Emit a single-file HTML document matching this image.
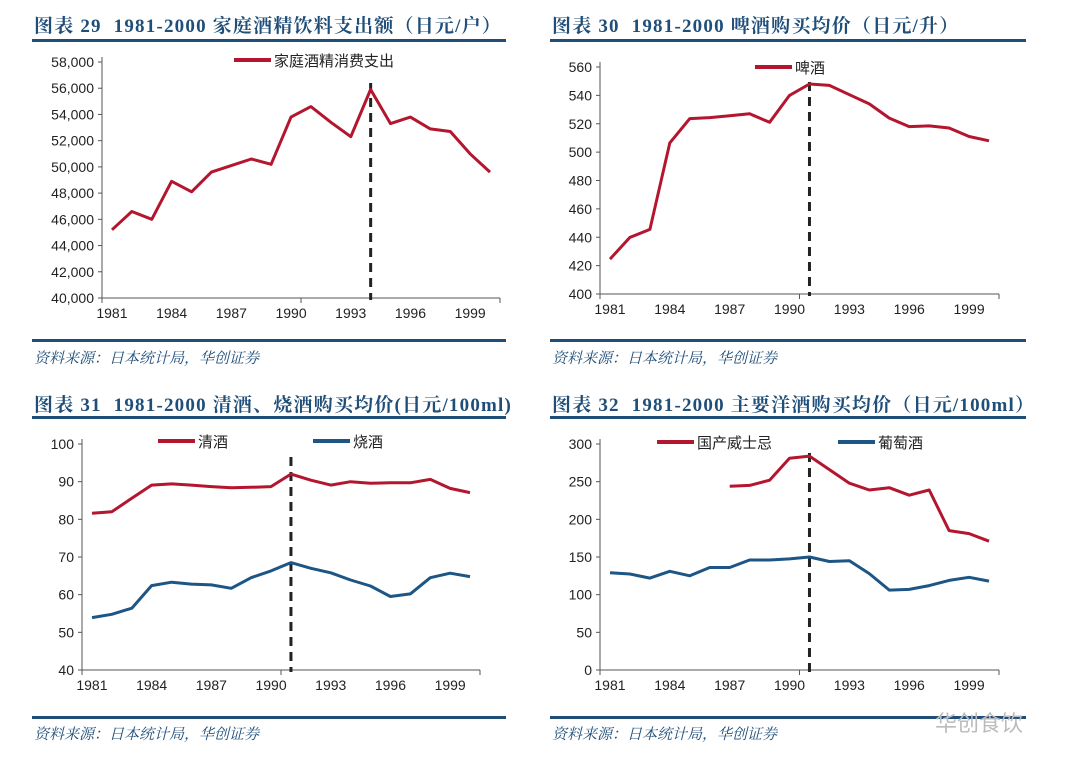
<!DOCTYPE html>
<html><head><meta charset="utf-8">
<style>
html,body{margin:0;padding:0;background:#fff;}
body{width:1080px;height:770px;position:relative;overflow:hidden;font-family:"Liberation Sans","Noto Sans CJK SC",sans-serif;}
.title{position:absolute;font-family:"Liberation Serif","Noto Serif CJK SC",serif;font-weight:bold;font-size:19px;color:#1f4e79;white-space:nowrap;letter-spacing:1.2px;}
.rule{position:absolute;height:3px;background:#1f4e79;}
.src{position:absolute;font-family:"Liberation Serif","Noto Serif CJK SC",serif;font-style:italic;font-size:15px;color:#1f4e79;white-space:nowrap;}
svg{position:absolute;left:0;top:0;}
</style></head>
<body>
<div class="title" style="left:34px;top:11px;">图表 29&nbsp;&nbsp;1981-2000 家庭酒精饮料支出额（日元/户）</div>
<div class="rule" style="left:32px;top:39px;width:474px;"></div>
<div class="rule" style="left:32px;top:339px;width:474px;"></div>
<div class="src" style="left:34px;top:347px;">资料来源：日本统计局，华创证券</div>

<div class="title" style="left:552px;top:11px;">图表 30&nbsp;&nbsp;1981-2000 啤酒购买均价（日元/升）</div>
<div class="rule" style="left:550px;top:39px;width:476px;"></div>
<div class="rule" style="left:550px;top:339px;width:476px;"></div>
<div class="src" style="left:552px;top:347px;">资料来源：日本统计局，华创证券</div>

<div class="title" style="left:34px;top:390px;">图表 31&nbsp;&nbsp;1981-2000 清酒、烧酒购买均价(日元/100ml)</div>
<div class="rule" style="left:32px;top:416px;width:474px;"></div>
<div class="rule" style="left:32px;top:716px;width:474px;"></div>
<div class="src" style="left:34px;top:723px;">资料来源：日本统计局，华创证券</div>

<div class="title" style="left:552px;top:390px;">图表 32&nbsp;&nbsp;1981-2000 主要洋酒购买均价（日元/100ml）</div>
<div class="rule" style="left:550px;top:416px;width:476px;"></div>
<div class="rule" style="left:550px;top:716px;width:476px;"></div>
<div class="src" style="left:552px;top:723px;">资料来源：日本统计局，华创证券</div>
<div style="position:absolute;left:935px;top:706px;font-size:22px;color:#bbb;">华创食饮</div>

<svg id="svg" width="1080" height="770"></svg>
<script>
const years = [1981,1982,1983,1984,1985,1986,1987,1988,1989,1990,1991,1992,1993,1994,1995,1996,1997,1998,1999,2000];
const xTickLabels = ["1981","1984","1987","1990","1993","1996","1999"];
const alcoholSpend = [45200,46600,46000,48900,48100,49600,50100,50600,50200,53800,54600,53400,52300,55900,53300,53800,52900,52700,51000,49600];
const beerPrice = [424.6,439.9,445.5,506.5,523.6,524.3,525.7,527,521,540,548,547,540.5,534,524,518,518.5,517,511,508];
const sakePrice = [81.6,82.0,85.6,89.1,89.4,89.1,88.7,88.4,88.5,88.7,92.0,90.4,89.1,90.0,89.6,89.7,89.7,90.6,88.2,87.1];
const shochuPrice = [53.9,54.8,56.4,62.4,63.3,62.8,62.6,61.7,64.5,66.3,68.5,67.0,65.8,63.9,62.3,59.5,60.2,64.5,65.7,64.8];
const whiskyPrice = [null,null,null,null,null,null,244,245,252,281,284,266,248,239,242,232,239,185,181,171];
const winePrice = [129,127.5,122,131,125,136,136,146,146,147.5,150,144,145,128,106,107,112,119,123,118];
const yTicks29 = [40000,42000,44000,46000,48000,50000,52000,54000,56000,58000];
const yTicks30 = [400,420,440,460,480,500,520,540,560];
const yTicks31 = [40,50,60,70,80,90,100];
const yTicks32 = [0,50,100,150,200,250,300];

const RED = "#b3162e", BLUE = "#1d5585";
const svg = document.getElementById('svg');
const NS = "http://www.w3.org/2000/svg";
function mk(tag, attrs, parent){const e=document.createElementNS(NS,tag);for(const k in attrs)e.setAttribute(k,attrs[k]);(parent||svg).appendChild(e);return e;}
function fmt(v){return v>=1000?v.toLocaleString('en-US'):String(v);}

function chart(id, L, R, T, B, yTicks, series, dashYear, dashTop, legends){
  const g = mk('g',{});
  
  
  const ymin=yTicks[0], ymax=yTicks[yTicks.length-1];
  const step=(R-L)/years.length;
  const xs=i=>L+(i+0.5)*step;
  const ys=v=>B-(v-ymin)/(ymax-ymin)*(B-T);
  const ax = mk('path',{d:`M${L} ${T-5}V${B}H${R}`,stroke:'#555',fill:'none','stroke-width':1},g);
  
  
  yTicks.forEach(t=>{
    const y=ys(t);
    mk('line',{x1:L-4,x2:L,y1:y,y2:y,stroke:'#555'},g);
    const tx=mk('text',{x:L-8,y:y+5,'text-anchor':'end','font-size':14,fill:'#222','font-family':'Liberation Sans, sans-serif'},g);
    tx.textContent=fmt(t);
    
    
  });
  [0,10,20].forEach(k=>mk('line',{x1:L+k*step,x2:L+k*step,y1:B,y2:B+5,stroke:'#555'},g));
  xTickLabels.forEach(lbl=>{
    const i=years.indexOf(+lbl);
    const tx=mk('text',{x:xs(i),y:B+20,'text-anchor':'middle','font-size':14,fill:'#222','font-family':'Liberation Sans, sans-serif'},g);
    tx.textContent=lbl;
    
    
  });
  const di=years.indexOf(dashYear);
  const dl=mk('line',{x1:xs(di),x2:xs(di),y1:dashTop,y2:B+2,stroke:'#222','stroke-width':3,'stroke-dasharray':'9,6'},g);
  
  
  series.forEach(s=>{
    let d='';let pen=false;
    s.data.forEach((v,i)=>{if(v==null){pen=false;return;}d+=(pen?'L':'M')+xs(i).toFixed(1)+' '+ys(v).toFixed(1);pen=true;});
    const p=mk('path',{d:d,stroke:s.color,'stroke-width':3,fill:'none','stroke-linejoin':'round'},g);
    
    
  });
  legends.forEach(lg=>{
    const ln=mk('line',{x1:lg.x,x2:lg.x+37,y1:lg.y,y2:lg.y,stroke:lg.color,'stroke-width':4},g);
    
    
    const tx=mk('text',{x:lg.x+40,y:lg.y+6,'font-size':15,fill:'#222','font-family':'Liberation Sans, Noto Sans CJK SC, sans-serif'},g);
    tx.textContent=lg.text;
    
    
  });
}
chart('chart-29',102,500,62,298,yTicks29,[{name:'line-alcohol-spend',color:RED,data:alcoholSpend}],1994,83,
  [{x:234,y:60,color:RED,text:'家庭酒精消费支出'}]);
chart('chart-30',600,999,67,294,yTicks30,[{name:'line-beer-price',color:RED,data:beerPrice}],1991,82,
  [{x:755,y:67,color:RED,text:'啤酒'}]);
chart('chart-31',82,480,444,670,yTicks31,[{name:'line-sake',color:RED,data:sakePrice},{name:'line-shochu',color:BLUE,data:shochuPrice}],1991,457,
  [{x:158,y:441,color:RED,text:'清酒'},{x:313,y:441,color:BLUE,text:'烧酒'}]);
chart('chart-32',600,999,444,670,yTicks32,[{name:'line-whisky',color:RED,data:whiskyPrice},{name:'line-wine',color:BLUE,data:winePrice}],1991,453,
  [{x:657,y:442,color:RED,text:'国产威士忌'},{x:838,y:442,color:BLUE,text:'葡萄酒'}]);
</script>
</body></html>
